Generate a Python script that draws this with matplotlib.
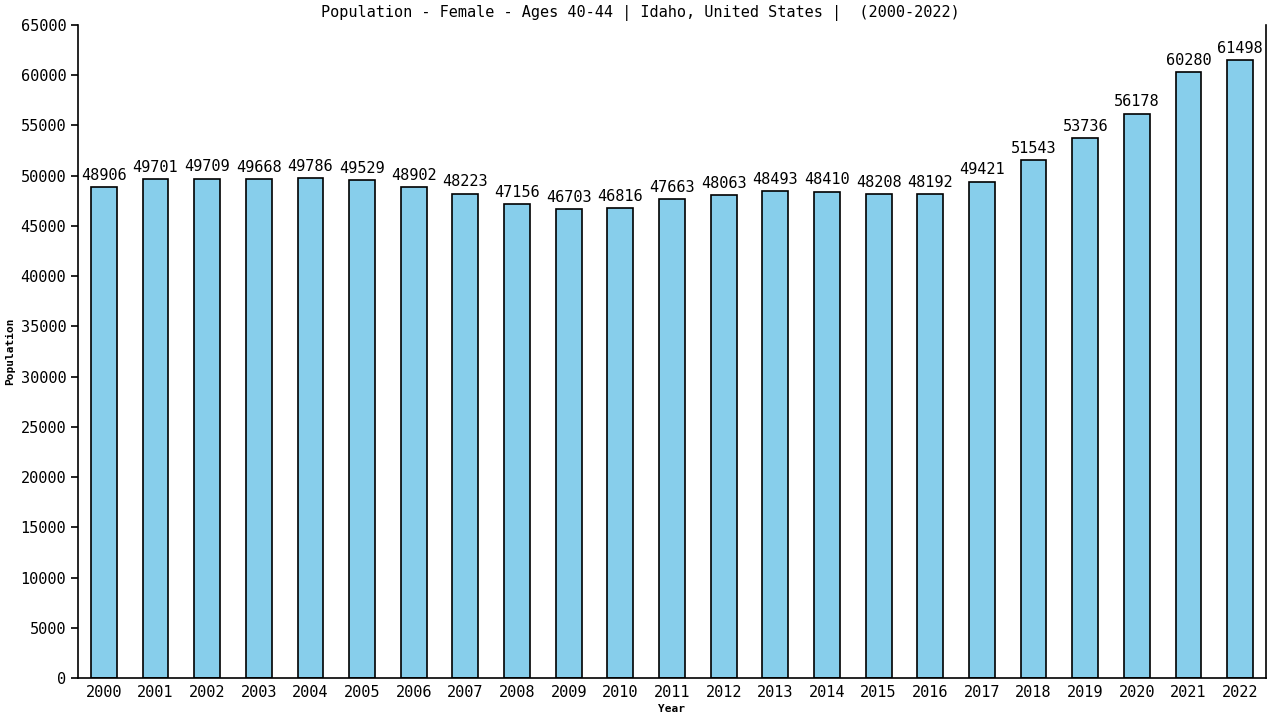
import numpy as np
import matplotlib
matplotlib.use('Agg')
import matplotlib.pyplot as plt

years = [str(y) for y in range(2000, 2023)]
population = [48906, 49701, 49709, 49668, 49786, 49529, 48902, 48223, 47156,
              46703, 46816, 47663, 48063, 48493, 48410, 48208, 48192, 49421,
              51543, 53736, 56178, 60280, 61498]
yticks = list(range(0, 65001, 5000))

plt.rcParams['font.family'] = ['DejaVu Sans Mono']


def plot_bars():
    fig = plt.figure(figsize=(12.8, 7.2), dpi=100)
    ax = fig.add_axes([78 / 1280, 1 - 678 / 720, (1266 - 78) / 1280, (678 - 25) / 720])
    x = np.arange(len(years))
    ax.bar(x, population, width=0.5, color='#87CEEB', edgecolor='black', linewidth=1.2)
    for xi, v in zip(x, population):
        ax.annotate(str(v), (xi, v), xytext=(0, 3), textcoords='offset points',
                    ha='center', va='bottom', fontsize=11)
    ax.set_xlim(-0.5, len(years) - 0.5)
    ax.set_ylim(0, 65000)
    ax.set_xticks(x)
    ax.set_xticklabels(years, fontsize=11)
    ax.set_yticks(yticks)
    ax.set_yticklabels([str(t) for t in yticks], fontsize=11)
    ax.tick_params(axis='x', length=0, pad=5)
    ax.tick_params(axis='y', length=5, width=1.2, direction='out')
    ax.spines['top'].set_visible(False)
    for s in ['left', 'right', 'bottom']:
        ax.spines[s].set_linewidth(1.2)
    ax.set_xlabel('Year', fontsize=8, fontweight='bold', labelpad=3)
    ax.set_ylabel('Population', fontsize=8, fontweight='bold', labelpad=4)
    fig.text(0.5, 1 - 13 / 720, 'Population - Female - Ages 40-44 | Idaho, United States |  (2000-2022)',
             ha='center', va='center', fontsize=11)
    fig.savefig('out.png', dpi=100)


if __name__ == "__main__":
    plot_bars()
